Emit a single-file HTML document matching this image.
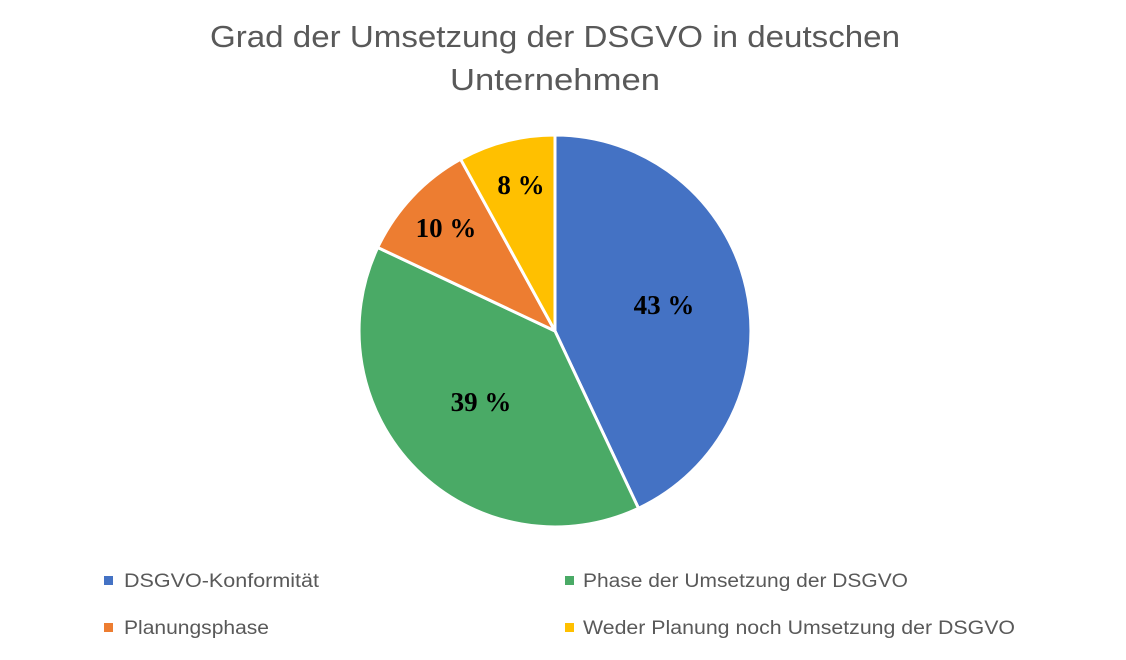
<!DOCTYPE html>
<html><head><meta charset="utf-8"><style>
body{margin:0;background:#fff;}
</style></head><body>
<svg width="1126" height="655" xmlns="http://www.w3.org/2000/svg">
<rect width="1126" height="655" fill="#fff"/>
<g font-family="Liberation Sans, sans-serif" fill="#595959" font-size="31" text-anchor="middle">
<text x="555" y="47" textLength="690" lengthAdjust="spacingAndGlyphs">Grad der Umsetzung der DSGVO in deutschen</text>
<text x="555" y="90" textLength="210" lengthAdjust="spacingAndGlyphs">Unternehmen</text>
</g>
<g stroke="#fff" stroke-width="3" stroke-linejoin="round">
<path d="M555,331 L555,135 A196,196 0 0 1 638.5,508.3 Z" fill="#4472C4"/>
<path d="M555,331 L638.5,508.3 A196,196 0 0 1 377.7,247.5 Z" fill="#4AAA66"/>
<path d="M555,331 L377.7,247.5 A196,196 0 0 1 460.6,159.2 Z" fill="#ED7D31"/>
<path d="M555,331 L460.6,159.2 A196,196 0 0 1 555,135 Z" fill="#FFC000"/>
</g>
<g font-family="Liberation Serif, serif" font-weight="bold" font-size="27" fill="#000" text-anchor="middle">
<text x="664" y="314">43 %</text>
<text x="481" y="411">39 %</text>
<text x="446" y="237">10 %</text>
<text x="521" y="194">8 %</text>
</g>
<g font-family="Liberation Sans, sans-serif" font-size="19" fill="#595959">
<rect x="104" y="576" width="9" height="9" fill="#4472C4"/>
<text x="124" y="587" textLength="195" lengthAdjust="spacingAndGlyphs">DSGVO-Konformität</text>
<rect x="565" y="576" width="9" height="9" fill="#4AAA66"/>
<text x="583" y="587" textLength="325" lengthAdjust="spacingAndGlyphs">Phase der Umsetzung der DSGVO</text>
<rect x="104" y="623" width="9" height="9" fill="#ED7D31"/>
<text x="124" y="634" textLength="145" lengthAdjust="spacingAndGlyphs">Planungsphase</text>
<rect x="565" y="623" width="9" height="9" fill="#FFC000"/>
<text x="583" y="634" textLength="432" lengthAdjust="spacingAndGlyphs">Weder Planung noch Umsetzung der DSGVO</text>
</g>
</svg>
</body></html>
